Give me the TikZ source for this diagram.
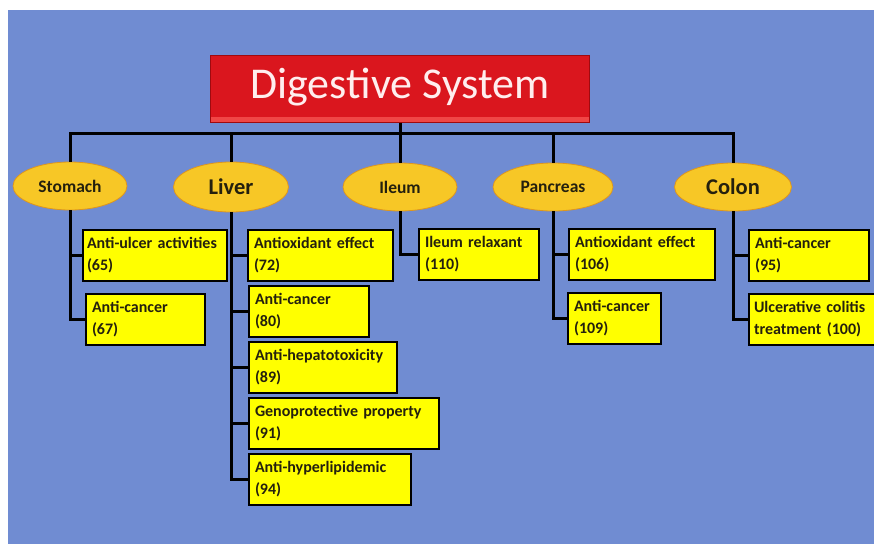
\documentclass[tikz,border=0pt]{standalone}
\usepackage{fontspec}
\setmainfont{Carlito}
\usetikzlibrary{shapes.geometric}
\definecolor{bgblue}{RGB}{112,140,210}
\definecolor{titlered}{RGB}{218,22,30}
\definecolor{titlelight}{RGB}{240,70,70}
\definecolor{titledark}{RGB}{160,10,15}
\definecolor{gold}{RGB}{247,199,38}
\definecolor{goldedge}{RGB}{222,150,30}
\definecolor{boxyellow}{RGB}{255,255,0}
\definecolor{inkdark}{RGB}{36,32,14}
\definecolor{titleink}{RGB}{255,238,238}
\begin{document}
\begin{tikzpicture}[x=1pt,y=-1pt,
  conn/.style={line width=3pt, draw=black},
  organ/.style={ellipse, fill=gold, draw=goldedge, line width=0.8pt, inner sep=0pt, minimum height=48pt, text=inkdark, font=\bfseries\fontsize{17.5}{17.5}\selectfont},
  bigorgan/.style={organ, font=\bfseries\fontsize{22.5}{22.5}\selectfont},
  effbox/.style={rectangle, fill=boxyellow, draw=black, line width=2pt, anchor=north west, minimum height=51pt, inner xsep=6pt, inner ysep=2pt, align=left, text=inkdark, font=\bfseries\fontsize{16}{22}\selectfont},
  titlebox/.style={rectangle, fill=titlered, draw=titledark, line width=1pt, minimum width=379pt, minimum height=67pt, text=titleink, font=\fontsize{44}{44}\selectfont}]
\useasboundingbox (0,0) rectangle (874,544);
\fill[white] (0,0) rectangle (874,544);
\fill[bgblue] (8,10) rectangle (874,544);

% title
\node[titlebox] (ti) at (400,88.5) {\phantom{Digestive System}};
\fill[titlelight] ([xshift=1pt,yshift=1pt]ti.south west) rectangle ([xshift=-1pt,yshift=6pt]ti.south east);
\node[text=titleink, font=\fontsize{44}{44}\selectfont] (tt) at ([yshift=1pt]ti.center) {Digestive System};

% organs
\node[organ, minimum width=114pt] (st) at (70,186) {Stomach};
\node[bigorgan, minimum width=115pt, minimum height=50pt] (li) at (231,187) {Liver};
\node[organ, minimum width=114pt] (il) at (400,187) {Ileum};
\node[organ, minimum width=120pt] (pa) at (553,187) {Pancreas};
\node[bigorgan, minimum width=117pt] (co) at (733,187) {Colon};

% effect boxes
\node[effbox, text width=136pt, inner xsep=4pt] (s1) at (82,229) {Anti-ulcer activities\\(65)};
\node[effbox, text width=107pt] (s2) at (85,293) {Anti-cancer\\(67)};
\node[effbox, text width=133pt] (l1) at (247,229) {Antioxidant effect\\(72)};
\node[effbox, text width=108pt] (l2) at (248,285) {Anti-cancer\\(80)};
\node[effbox, text width=136pt] (l3) at (248,341) {Anti-hepatotoxicity\\(89)};
\node[effbox, text width=178pt] (l4) at (248,397) {Genoprotective property\\(91)};
\node[effbox, text width=150pt] (l5) at (248,453) {Anti-hyperlipidemic\\(94)};
\node[effbox, text width=108pt] (i1) at (418,228) {Ileum relaxant\\(110)};
\node[effbox, text width=134pt] (p1) at (568,228) {Antioxidant effect\\(106)};
\node[effbox, text width=81pt] (p2) at (567,292) {Anti-cancer\\(109)};
\node[effbox, text width=108pt] (c1) at (748,229) {Anti-cancer\\(95)};
\node[effbox, text width=122pt, inner xsep=5pt] (c2) at (748,293) {Ulcerative colitis\\treatment (100)};

% connectors
\coordinate (bus) at (0,133);
\draw[conn] (ti.south) -- (il.north);
\draw[conn] (st.north) -- (st.north |- bus) -- (co.north |- bus) -- (co.north);
\draw[conn] (li.north) -- (li.north |- bus);
\draw[conn] (pa.north) -- (pa.north |- bus);

\draw[conn] (st.south) |- (s2.west);
\draw[conn] (st.south |- s1.west) -- (s1.west);

\draw[conn] (li.south) |- (l5.west);
\draw[conn] (li.south |- l1.west) -- (l1.west);
\draw[conn] (li.south |- l2.west) -- (l2.west);
\draw[conn] (li.south |- l3.west) -- (l3.west);
\draw[conn] (li.south |- l4.west) -- (l4.west);

\draw[conn] (il.south) |- (i1.west);

\draw[conn] (pa.south) |- (p2.west);
\draw[conn] (pa.south |- p1.west) -- (p1.west);

\draw[conn] (co.south) |- (c2.west);
\draw[conn] (co.south |- c1.west) -- (c1.west);
\end{tikzpicture}
\end{document}
